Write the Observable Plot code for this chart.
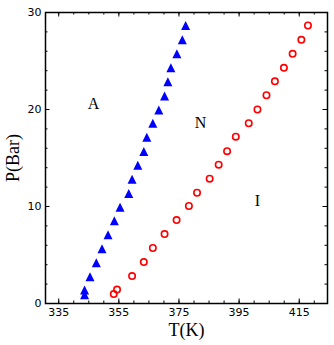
<!DOCTYPE html>
<html>
<head>
<meta charset="utf-8">
<script src="https://cdn.jsdelivr.net/npm/d3@7"></script>
<script src="https://cdn.jsdelivr.net/npm/@observablehq/plot@0.6"></script>
<style>
  html, body { margin: 0; padding: 0; background: #fff; }
</style>
</head>
<body>
<div id="chart"></div>
<script>
// A–N transition (blue triangles)
const T_A = [343.6, 343.6, 345.4, 347.5, 349.4, 351.4, 353.5, 355.4, 358.3, 359.4, 361.3, 363.3, 364.3, 366.3, 368.3, 370.2, 371.3, 372.3, 374.3, 376.1, 377.2];
const P_A = [0.90, 1.38, 2.76, 4.20, 5.65, 7.09, 8.53, 9.91, 11.35, 12.80, 14.24, 15.66, 17.13, 18.58, 19.96, 21.40, 22.85, 24.30, 25.74, 27.18, 28.66];
// N–I transition (red open circles)
const T_I = [353.3, 354.4, 359.4, 363.3, 366.3, 370.2, 374.2, 378.3, 381.0, 385.2, 388.2, 391.0, 393.9, 398.2, 401.1, 404.1, 406.9, 409.9, 412.8, 415.7, 417.9];
const P_I = [0.97, 1.44, 2.83, 4.27, 5.72, 7.16, 8.60, 10.05, 11.42, 12.87, 14.31, 15.70, 17.20, 18.58, 20.00, 21.47, 22.90, 24.30, 25.74, 27.18, 28.66];
// phase region labels
const regionLabels = ["A", "N", "I"];
const regionT = [346.6, 382.2, 401.1];
const regionP = [20.6, 18.6, 10.6];
// ticks
const xMajor = [335, 355, 375, 395, 415];
const xMinor = d3.range(335, 425, 5);
const yMajor = [0, 10, 20, 30];
const yMinor = d3.range(0, 31, 2);

const W = 334, H = 345;
const mL = 45, mR = 7, mT = 12, mB = 42;
const innerW = W - mL - mR, innerH = H - mT - mB;
const majLen = 4.5, minLen = 2.5;

const dataA = T_A.map((t, i) => ({T: t, P: P_A[i]}));
const dataI = T_I.map((t, i) => ({T: t, P: P_I[i]}));
const labels = regionLabels.map((s, i) => ({s, T: regionT[i], P: regionP[i]}));

const triUp = {
  draw(ctx, size) {
    const a = Math.sqrt(size / Math.PI);
    ctx.moveTo(0, -a);
    ctx.lineTo(a, a);
    ctx.lineTo(-a, a);
    ctx.closePath();
  }
};

const serif = "Liberation Serif, DejaVu Serif, serif";

const chart = Plot.plot({
  width: W, height: H,
  marginLeft: mL, marginRight: mR, marginTop: mT, marginBottom: mB,
  style: {fontFamily: "DejaVu Sans, sans-serif", fontSize: "11px", color: "black", background: "white"},
  x: {domain: [330.6, 424.4]},
  y: {domain: [0, 30]},
  marks: [
    // inward ticks: bottom/top
    Plot.tickX(xMinor, {x: d => d, insetTop: innerH - minLen, stroke: "black"}),
    Plot.tickX(xMinor, {x: d => d, insetBottom: innerH - minLen, stroke: "black"}),
    Plot.tickX(xMajor, {x: d => d, insetTop: innerH - majLen, stroke: "black"}),
    Plot.tickX(xMajor, {x: d => d, insetBottom: innerH - majLen, stroke: "black"}),
    // inward ticks: left/right
    Plot.tickY(yMinor, {y: d => d, insetRight: innerW - minLen, stroke: "black"}),
    Plot.tickY(yMinor, {y: d => d, insetLeft: innerW - minLen, stroke: "black"}),
    Plot.tickY(yMajor, {y: d => d, insetRight: innerW - majLen, stroke: "black"}),
    Plot.tickY(yMajor, {y: d => d, insetLeft: innerW - majLen, stroke: "black"}),
    Plot.axisX({ticks: xMajor, tickSize: 0, tickPadding: 5, label: null, tickFormat: d => String(d)}),
    Plot.axisY({ticks: yMajor, tickSize: 0, tickPadding: 4, label: null, tickFormat: d => String(d)}),
    Plot.frame({stroke: "black", strokeWidth: 1.5}),
    Plot.dot(dataA, {x: "T", y: "P", symbol: triUp, r: 4.5, fill: "#0000ff", stroke: "none"}),
    Plot.dot(dataI, {x: "T", y: "P", r: 3.2, fill: "none", stroke: "#ff0000", strokeWidth: 1.6}),
    Plot.text(labels, {x: "T", y: "P", text: "s", fontFamily: serif, fontSize: 16, fill: "black"}),
    Plot.text(["T(K)"], {frameAnchor: "bottom", dy: 27, lineAnchor: "middle", textAnchor: "middle", text: d => d, fontFamily: serif, fontSize: 18, fill: "black"}),
    Plot.text(["P(Bar)"], {frameAnchor: "left", dx: -32, rotate: -90, lineAnchor: "middle", textAnchor: "middle", text: d => d, fontFamily: serif, fontSize: 18, fill: "black"})
  ]
});
document.getElementById("chart").appendChild(chart);
</script>
</body>
</html>
